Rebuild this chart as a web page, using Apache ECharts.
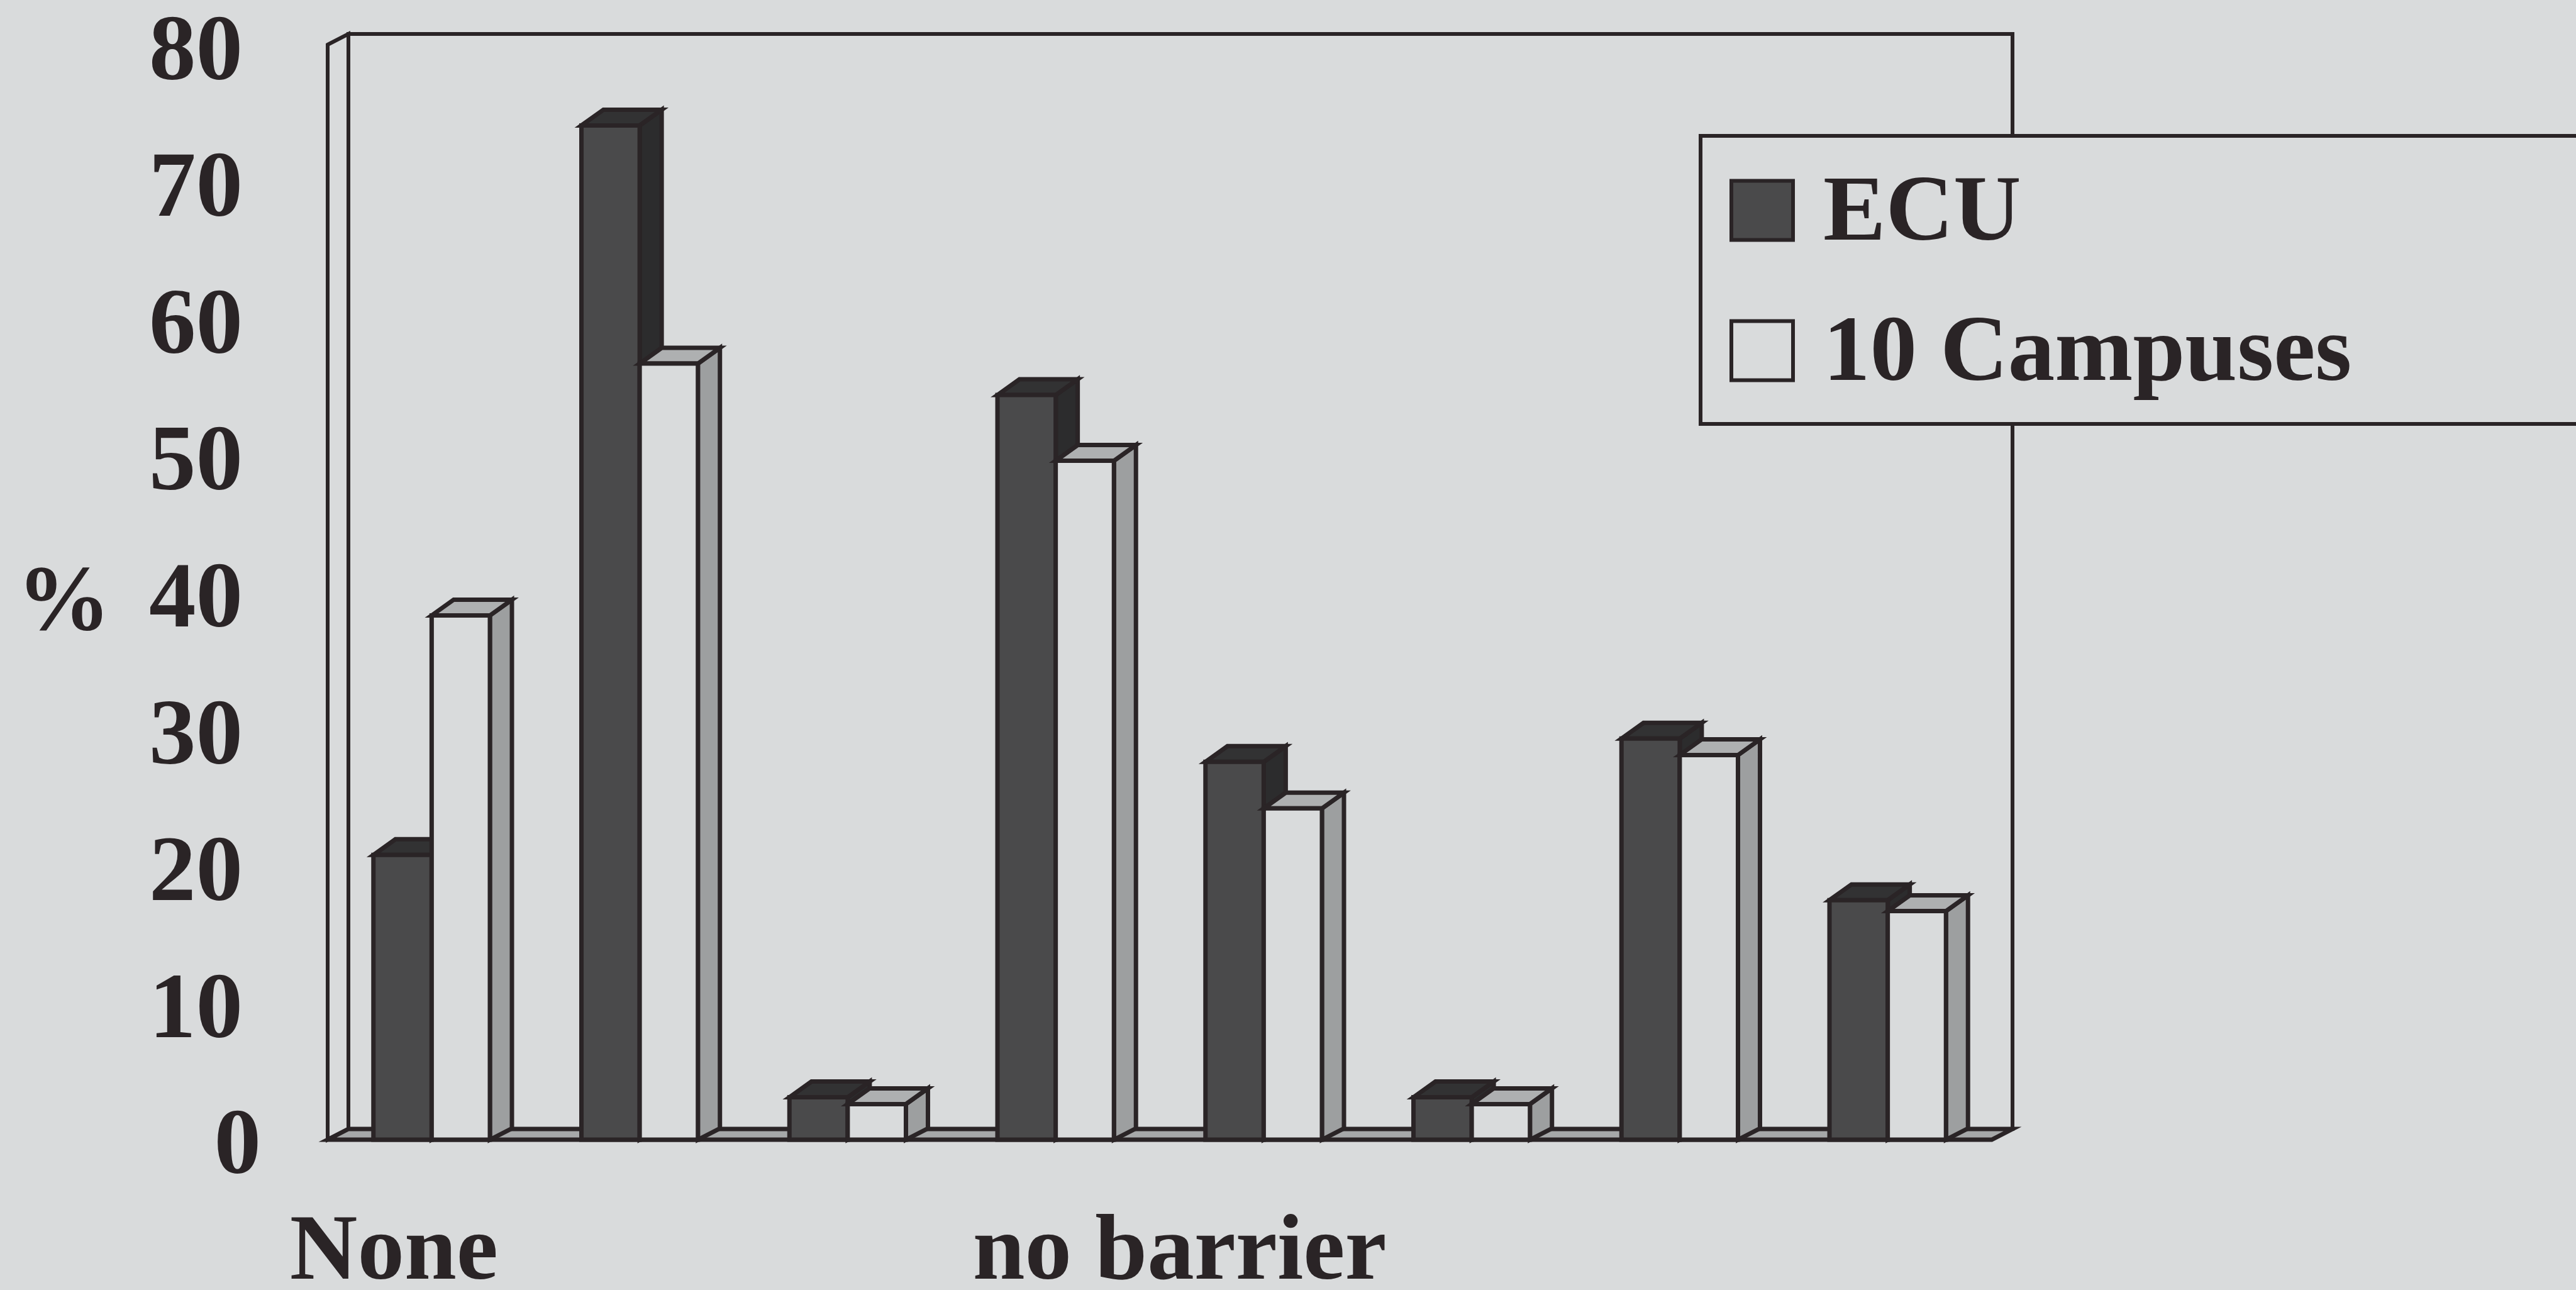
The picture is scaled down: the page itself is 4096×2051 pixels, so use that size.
<!DOCTYPE html>
<html>
<head>
<meta charset="utf-8">
<style>html,body{margin:0;padding:0;background:#d9dbdc}#chart{width:4096px;height:2051px}</style>
<script src="https://cdn.jsdelivr.net/npm/echarts@6/dist/echarts.min.js"></script>
</head>
<body>
<div id="chart"></div>
<script>
const categories = ['None', '', '', 'no barrier', '', '', '', ''];
const ecuValues = [20.8, 74.1, 3.1, 54.4, 27.6, 3.1, 29.3, 17.5];
const campusValues = [38.3, 56.7, 2.6, 49.6, 24.2, 2.6, 28.1, 16.7];
const yTicks = [0, 10, 20, 30, 40, 50, 60, 70, 80];

const PAPER = '#d9dbdc', INK = '#2a2426';
const FONT = '"Liberation Serif", serif';
const FONT_SIZE = 149;

// Oblique projection of the box: how far the rear plane sits from the front plane.
const WALL_DX = 33, WALL_DY = 17;
const BAR_DX = 35, BAR_DY_TOP = 25, BAR_DY_BASE = 18;
const BAR_FRACTION = 0.28;

function poly(points, fill, lineWidth) {
  return {
    type: 'polygon',
    shape: { points },
    style: { fill, stroke: INK, lineWidth, lineJoin: 'miter' }
  };
}

// Back wall, left wall and floor of the chart box.
function renderFrame(params, api) {
  const bottomLeft = api.coord([0, 0]);
  const topLeft = api.coord([0, 80]);
  const band = api.size([1, 0])[0];
  const x0 = bottomLeft[0] - band / 2;
  const x1 = x0 + band * categories.length;
  const y0 = bottomLeft[1], y1 = topLeft[1];
  const bx = WALL_DX, by = WALL_DY;
  return {
    type: 'group',
    children: [
      poly([[x0 + bx, y1 - by], [x1 + bx, y1 - by], [x1 + bx, y0 - by], [x0 + bx, y0 - by]], PAPER, 6),
      poly([[x0, y1], [x0 + bx, y1 - by], [x0 + bx, y0 - by], [x0, y0]], PAPER, 6),
      poly([[x0, y0], [x1, y0], [x1 + bx, y0 - by], [x0 + bx, y0 - by]], '#a6a8a9', 7)
    ]
  };
}

// One oblique bar: front face, top face and right side.
function barRenderer(offsetBands, front, top, side) {
  return function (params, api) {
    const base = api.coord([api.value(0), 0]);
    const head = api.coord([api.value(0), api.value(1)]);
    const band = api.size([1, 0])[0];
    const w = band * BAR_FRACTION;
    const xl = base[0] + offsetBands * w, xr = xl + w;
    const y0 = base[1], y1 = head[1];
    return {
      type: 'group',
      children: [
        poly([[xr, y1], [xr + BAR_DX, y1 - BAR_DY_TOP], [xr + BAR_DX, y0 - BAR_DY_BASE], [xr, y0]], side, 7),
        poly([[xl, y1], [xl + BAR_DX, y1 - BAR_DY_TOP], [xr + BAR_DX, y1 - BAR_DY_TOP], [xr, y1]], top, 7),
        poly([[xl, y1], [xr, y1], [xr, y0], [xl, y0]], front, 7)
      ]
    };
  };
}

function seriesData(values) {
  return values.map((v, i) => [i, v]);
}

const chart = echarts.init(document.getElementById('chart'), null, { renderer: 'canvas' });
chart.setOption({
  animation: false,
  backgroundColor: PAPER,
  grid: { left: 521, top: 71, width: 2646, height: 1741, outerBoundsMode: 'none', containLabel: false },
  xAxis: {
    type: 'category',
    data: [
      { value: categories[0], textStyle: { padding: [0, 120, 0, 0] } },
      categories[1], categories[2],
      { value: categories[3], textStyle: { padding: [0, 0, 0, 394] } },
      categories[4], categories[5], categories[6], categories[7]
    ],
    axisLine: { show: false },
    axisTick: { show: false },
    axisLabel: {
      interval: 0, margin: 108, overflow: 'none', width: 1200, hideOverlap: false,
      fontFamily: FONT, fontWeight: 'bold', fontSize: FONT_SIZE, color: INK
    },
    splitLine: { show: false }
  },
  yAxis: {
    type: 'value',
    min: 0, max: 80, interval: 10,
    axisLine: { show: false },
    axisTick: { show: false },
    splitLine: { show: false },
    name: '{p|%}',
    nameLocation: 'middle',
    nameRotate: 0,
    nameGap: 345,
    nameTextStyle: {
      rich: { p: { fontFamily: FONT, fontWeight: 'bold', fontSize: FONT_SIZE, color: INK, padding: [42, 0, 0, 0] } }
    },
    axisLabel: {
      margin: 106,
      formatter: v => yTicks.includes(v) ? (v === 0 ? '{zero|0}' : '{tick|' + v + '}') : '',
      rich: {
        tick: { fontFamily: FONT, fontWeight: 'bold', fontSize: FONT_SIZE, color: INK, padding: [32, 29, 0, 0] },
        zero: { fontFamily: FONT, fontWeight: 'bold', fontSize: FONT_SIZE, color: INK, padding: [28, 0, 0, 0] }
      }
    }
  },
  legend: {
    show: true,
    orient: 'vertical',
    left: 2704, top: 216,
    padding: [52, 900, 34, 46],
    itemWidth: 98, itemHeight: 94, itemGap: 74,
    backgroundColor: PAPER,
    borderColor: INK, borderWidth: 6,
    selectedMode: false,
    formatter: name => '{t|' + name + '}',
    textStyle: {
      rich: { t: { fontFamily: FONT, fontWeight: 'bold', fontSize: FONT_SIZE, color: INK, padding: [16, 0, 0, 43] } }
    },
    data: [
      { name: 'ECU', icon: 'rect', itemStyle: { color: '#4a4a4b', borderColor: INK, borderWidth: 6 } },
      { name: '10 Campuses', icon: 'rect', itemStyle: { color: PAPER, borderColor: INK, borderWidth: 6 } }
    ]
  },
  series: [
    { type: 'custom', name: 'frame', data: [[0, 0]], renderItem: renderFrame, silent: true, clip: false, z: 1 },
    { type: 'custom', name: 'ECU', data: seriesData(ecuValues), clip: false, z: 2,
      renderItem: barRenderer(-1, '#4a4a4b', '#323233', '#2c2c2d') },
    { type: 'custom', name: '10 Campuses', data: seriesData(campusValues), clip: false, z: 3,
      renderItem: barRenderer(0, PAPER, '#aeb0b1', '#9d9fa0') }
  ]
});
</script>
</body>
</html>
